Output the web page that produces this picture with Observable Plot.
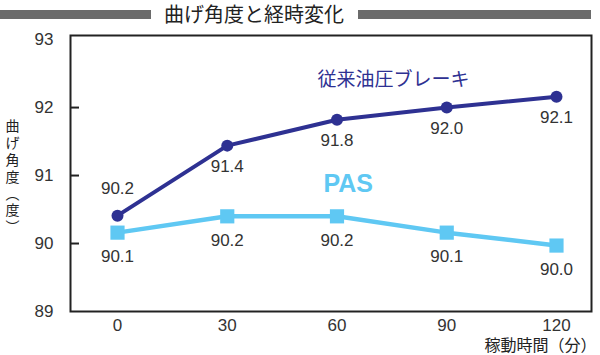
<!DOCTYPE html>
<html><head><meta charset="utf-8">
<script src="https://cdn.jsdelivr.net/npm/d3@7"></script>
<script src="https://cdn.jsdelivr.net/npm/@observablehq/plot@0.6"></script>
<style>
body{margin:0;background:#fff;font-family:"Noto Sans CJK JP",sans-serif;}
#title{position:relative;height:30px;width:600px;}
.bar{position:absolute;top:10px;height:9px;background:#6b6b6b;}
#title span{position:absolute;left:0;width:508px;text-align:center;top:0px;font-size:20px;line-height:28px;color:#222}
</style></head><body>
<div id="title"><div class="bar" style="left:0;width:151px"></div><span>曲げ角度と経時変化</span><div class="bar" style="left:358px;width:233px"></div></div>
<div id="chart"></div>
<script>
const times = [0, 30, 60, 90, 120];
const conventional = [90.41, 91.44, 91.82, 92.0, 92.16];
const conventionalLabels = ["90.2", "91.4", "91.8", "92.0", "92.1"];
const pas = [90.16, 90.40, 90.40, 90.16, 89.97];
const pasLabels = ["90.1", "90.2", "90.2", "90.1", "90.0"];
const yTicks = [89, 90, 91, 92, 93];
const innerTicks = [90, 91, 92];
const seriesNames = ["従来油圧ブレーキ", "PAS"];
const yTitle = "曲げ角度（度）";
const xTitle = "稼動時間（分）";

const NAVY = "#2e3192", LIGHT = "#5fc8f3", TXT = "#333";
const conv = times.map((t, i) => ({t, v: conventional[i], label: conventionalLabels[i], i}));
const pasD = times.map((t, i) => ({t, v: pas[i], label: pasLabels[i], i}));
const vertical = Array.from(yTitle.replace("（", "︵").replace("）", "︶")).join("\n");
const num = "'Liberation Sans', Arial, sans-serif";

const chart = Plot.plot({
  width: 600, height: 325,
  marginLeft: 70, marginRight: 9, marginTop: 5, marginBottom: 44,
  x: {domain: [-12.85, 129.57]},
  y: {domain: [89, 93.06]},
  style: {fontFamily: num, color: TXT},
  marks: [
    Plot.frame({stroke: "#222", strokeWidth: 2}),
    Plot.tickY(innerTicks, {stroke: "#222", strokeWidth: 2, insetRight: 512}),
    Plot.axisY(yTicks, {tickSize: 0, tickPadding: 17, fontSize: 17, label: null, tickFormat: d => String(d)}),
    Plot.axisX(times, {tickSize: 0, tickPadding: 7, fontSize: 17, label: null, tickFormat: d => String(d)}),
    Plot.text([vertical], {frameAnchor: "left", dx: -58, dy: 3, textAnchor: "middle", fontSize: 14, lineHeight: 1.2, fontFamily: "Noto Sans CJK JP", fill: "#222"}),
    Plot.text([xTitle], {frameAnchor: "bottom-right", dx: 5, dy: 34, textAnchor: "end", lineAnchor: "middle", fontSize: 16, fontFamily: "Noto Sans CJK JP", fill: "#222"}),
    Plot.line(pasD, {x: "t", y: "v", stroke: LIGHT, strokeWidth: 4.5}),
    Plot.dot(pasD, {x: "t", y: "v", symbol: "square", r: 8, fill: LIGHT}),
    Plot.line(conv, {x: "t", y: "v", stroke: NAVY, strokeWidth: 4}),
    Plot.dot(conv, {x: "t", y: "v", r: 6, fill: NAVY}),
    Plot.text(conv.filter(d => d.i === 0), {x: "t", y: "v", text: "label", dy: -27, fontSize: 17, fill: TXT}),
    Plot.text(conv.filter(d => d.i > 0), {x: "t", y: "v", text: "label", dy: 21, fontSize: 17, fill: TXT}),
    Plot.text(pasD, {x: "t", y: "v", text: "label", dy: 24, fontSize: 17, fill: TXT}),
    Plot.text([seriesNames[0]], {x: 54.7, y: 92.41, textAnchor: "start", fontSize: 19, fontFamily: "Noto Sans CJK JP", fill: NAVY}),
    Plot.text([seriesNames[1]], {x: 56.3, y: 90.87, textAnchor: "start", fontSize: 25, fontWeight: "bold", fontFamily: "'Liberation Sans', Arial, sans-serif", fill: LIGHT})
  ]
});
document.getElementById("chart").appendChild(chart);
</script>
</body></html>
